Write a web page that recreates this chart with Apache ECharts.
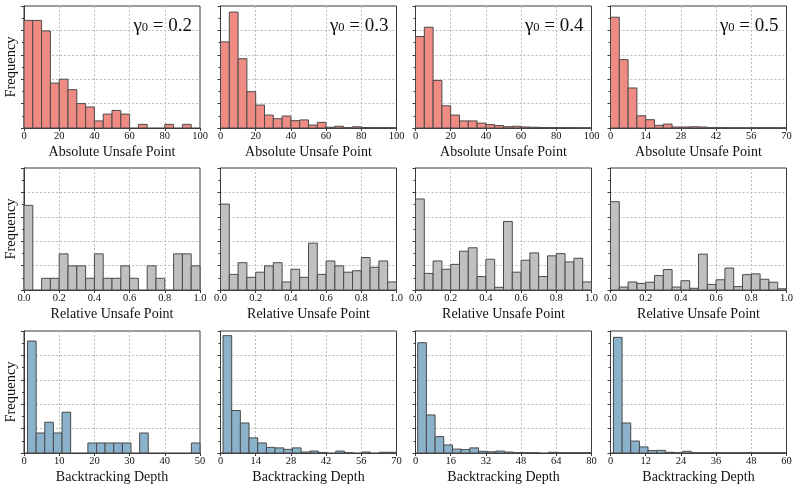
<!DOCTYPE html>
<html>
<head>
<meta charset="utf-8">
<script src="https://cdn.jsdelivr.net/npm/echarts@6/dist/echarts.min.js"></script>
<style>
  html, body { margin: 0; padding: 0; background: #fff; }
  #chart { width: 800px; height: 490px; }
</style>
</head>
<body>
<div id="chart"></div>
<script>
const absUnsafe02 = [4.41, 4.41, 3.98, 1.84, 2.0, 1.57, 1.0, 0.86, 0.29, 0.57, 0.72, 0.57, 0, 0.15, 0, 0, 0.15, 0, 0.15, 0];
const absUnsafe03 = [3.53, 4.75, 2.84, 1.49, 0.94, 0.53, 0.38, 0.49, 0.30, 0.33, 0.12, 0.23, 0.03, 0.07, 0.01, 0.05, 0.02, 0.01, 0.01, 0.01];
const absUnsafe04 = [3.75, 4.13, 1.95, 0.91, 0.53, 0.29, 0.29, 0.20, 0.14, 0.10, 0.05, 0.07, 0.04, 0.03, 0.02, 0.015, 0.01, 0.01, 0.005, 0.005];
const absUnsafe05 = [4.54, 2.80, 1.64, 0.50, 0.34, 0.11, 0.16, 0.04, 0.04, 0.05, 0.04, 0.01, 0.01, 0.005, 0.005, 0.005, 0.005, 0.005, 0.005, 0.005];

const relUnsafe02 = [3.47, 0, 0.48, 0.48, 1.48, 0.99, 0.99, 0.48, 1.48, 0.48, 0.48, 0.99, 0.48, 0, 0.99, 0.48, 0, 1.48, 1.48, 0.99];
const relUnsafe03 = [3.52, 0.64, 1.12, 0.52, 0.73, 0.99, 1.12, 0.33, 0.85, 0.52, 1.92, 0.64, 1.19, 0.99, 0.73, 0.79, 1.33, 0.93, 1.19, 0.33];
const relUnsafe04 = [3.73, 0.68, 1.19, 0.85, 1.05, 1.59, 1.73, 0.55, 1.26, 0.11, 2.81, 0.73, 1.22, 1.52, 0.55, 1.40, 1.49, 1.15, 1.30, 0.33];
const relUnsafe05 = [3.62, 0.12, 0.33, 0.27, 0.32, 0.59, 0.84, 0.12, 0.38, 0.07, 1.47, 0.23, 0.42, 0.90, 0.14, 0.63, 0.66, 0.44, 0.32, 0.05];

const depth02 = [4.59, 0.82, 1.26, 0.82, 1.67, 0, 0, 0.41, 0.41, 0.41, 0.41, 0.41, 0, 0.82, 0, 0, 0, 0, 0, 0.41];
const depth03 = [4.81, 1.74, 1.23, 0.62, 0.41, 0.23, 0.21, 0.15, 0.21, 0.04, 0.08, 0.01, 0, 0.08, 0.01, 0, 0.04, 0, 0.03, 0.03];
const depth04 = [4.52, 1.56, 0.67, 0.33, 0.16, 0.14, 0.21, 0.07, 0.05, 0.08, 0.04, 0.01, 0.01, 0.01, 0, 0.03, 0.01, 0.01, 0.01, 0.01];
const depth05 = [4.74, 1.23, 0.49, 0.25, 0.10, 0.11, 0.03, 0.01, 0.07, 0.01, 0.01, 0.01, 0.005, 0.005, 0.005, 0.01, 0.005, 0.005, 0.005, 0.005];

// histogram ranges [first edge, last edge] and axis extents
const gammaLabels = ['0.2', '0.3', '0.4', '0.5'];
const absRanges = [[0, 100], [0, 100], [0, 100], [0, 70]];
const absSteps = [20, 20, 20, 14];
const relRanges = [[0, 1], [0, 1], [0, 1], [0, 1]];
const relSteps = [0.2, 0.2, 0.2, 0.2];
const depthRanges = [[1, 50], [1, 70], [1, 80], [1, 60]];
const depthMax = [50, 70, 80, 60];
const depthSteps = [10, 14, 16, 12];

const SALMON = '#ef8b83';
const GREY = '#c0c0c0';
const BLUE = '#8ab3cb';
const FONT = '"Liberation Serif", "DejaVu Serif", serif';

const colLeft = [24, 220.5, 415.5, 610.5];
const rowTop = [6, 168, 331];
const W = 176, H = 122;

const panels = [];
[absUnsafe02, absUnsafe03, absUnsafe04, absUnsafe05].forEach((c, i) => panels.push({
  row: 0, col: i, counts: c, range: absRanges[i], xmax: absRanges[i][1], step: absSteps[i],
  color: SALMON, name: 'Absolute Unsafe Point', gamma: gammaLabels[i]
}));
[relUnsafe02, relUnsafe03, relUnsafe04, relUnsafe05].forEach((c, i) => panels.push({
  row: 1, col: i, counts: c, range: relRanges[i], xmax: 1, step: relSteps[i],
  color: GREY, name: 'Relative Unsafe Point', fixed: 1
}));
[depth02, depth03, depth04, depth05].forEach((c, i) => panels.push({
  row: 2, col: i, counts: c, range: depthRanges[i], xmax: depthMax[i], step: depthSteps[i],
  color: BLUE, name: 'Backtracking Depth'
}));

const grid = [], xAxis = [], yAxis = [], series = [], title = [];
const gridLine = { show: true, showMinLine: false, showMaxLine: false, lineStyle: { color: '#bdbdbd', type: [2, 2], width: 1 } };

panels.forEach((p, k) => {
  grid.push({
    left: colLeft[p.col], top: rowTop[p.row], width: W, height: H,
    show: true, borderColor: '#3a3a3a', borderWidth: 1, backgroundColor: 'transparent'
  });
  xAxis.push({
    type: 'value', gridIndex: k, min: 0, max: p.xmax, interval: p.step,
    name: p.name, nameLocation: 'middle', nameGap: 17,
    nameTextStyle: { fontFamily: FONT, fontSize: 14, color: '#111' },
    axisLine: { show: true, onZero: false, lineStyle: { color: '#3a3a3a' } },
    axisTick: { show: true, length: 3, lineStyle: { color: '#3a3a3a' } },
    axisLabel: {
      fontFamily: FONT, fontSize: 10.5, color: '#111', margin: 3,
      formatter: v => p.fixed ? v.toFixed(1) : String(v)
    },
    splitLine: gridLine
  });
  yAxis.push({
    type: 'value', gridIndex: k, min: 0, max: 5, interval: 1,
    name: p.col === 0 ? 'Frequency' : '', nameLocation: 'middle', nameGap: 5,
    nameTextStyle: { fontFamily: FONT, fontSize: 14.5, color: '#111' },
    axisLine: { show: true, lineStyle: { color: '#3a3a3a' } },
    axisTick: { show: true, length: 3, lineStyle: { color: '#3a3a3a' } },
    minorTick: { show: true, splitNumber: 2, length: 2, lineStyle: { color: '#3a3a3a' } },
    axisLabel: { show: false },
    splitLine: gridLine
  });
  const n = p.counts.length;
  const w = (p.range[1] - p.range[0]) / n;
  const data = p.counts.map((v, i) => [p.range[0] + i * w, p.range[0] + (i + 1) * w, v]);
  series.push({
    type: 'custom', xAxisIndex: k, yAxisIndex: k, data: data,
    encode: { x: [0, 1], y: 2 },
    renderItem: (params, api) => {
      const y = api.value(2);
      if (!y) return null;
      const a = api.coord([api.value(0), 0]);
      const b = api.coord([api.value(1), y]);
      return {
        type: 'rect',
        shape: { x: a[0], y: b[1], width: b[0] - a[0], height: a[1] - b[1] },
        style: { fill: p.color, stroke: '#4a4a4a', lineWidth: 1 }
      };
    }
  });
  if (p.gamma) {
    title.push({
      text: '{g|γ}{s|0}{g| = ' + p.gamma + '}',
      padding: 0,
      right: 800 - (colLeft[p.col] + W) + 8, top: rowTop[p.row] + 11,
      textStyle: {
        fontWeight: 'normal',
        rich: {
          g: { fontFamily: FONT, fontSize: 19, fontWeight: 'normal', color: '#111' },
          s: { fontFamily: FONT, fontSize: 12.5, fontWeight: 'normal', color: '#111', padding: [0, 0, -3, 0] }
        }
      }
    });
  }
});

const chart = echarts.init(document.getElementById('chart'), null, { renderer: 'canvas' });
chart.setOption({
  animation: false,
  backgroundColor: '#fff',
  title: title,
  grid: grid,
  xAxis: xAxis,
  yAxis: yAxis,
  series: series
});
</script>
</body>
</html>
